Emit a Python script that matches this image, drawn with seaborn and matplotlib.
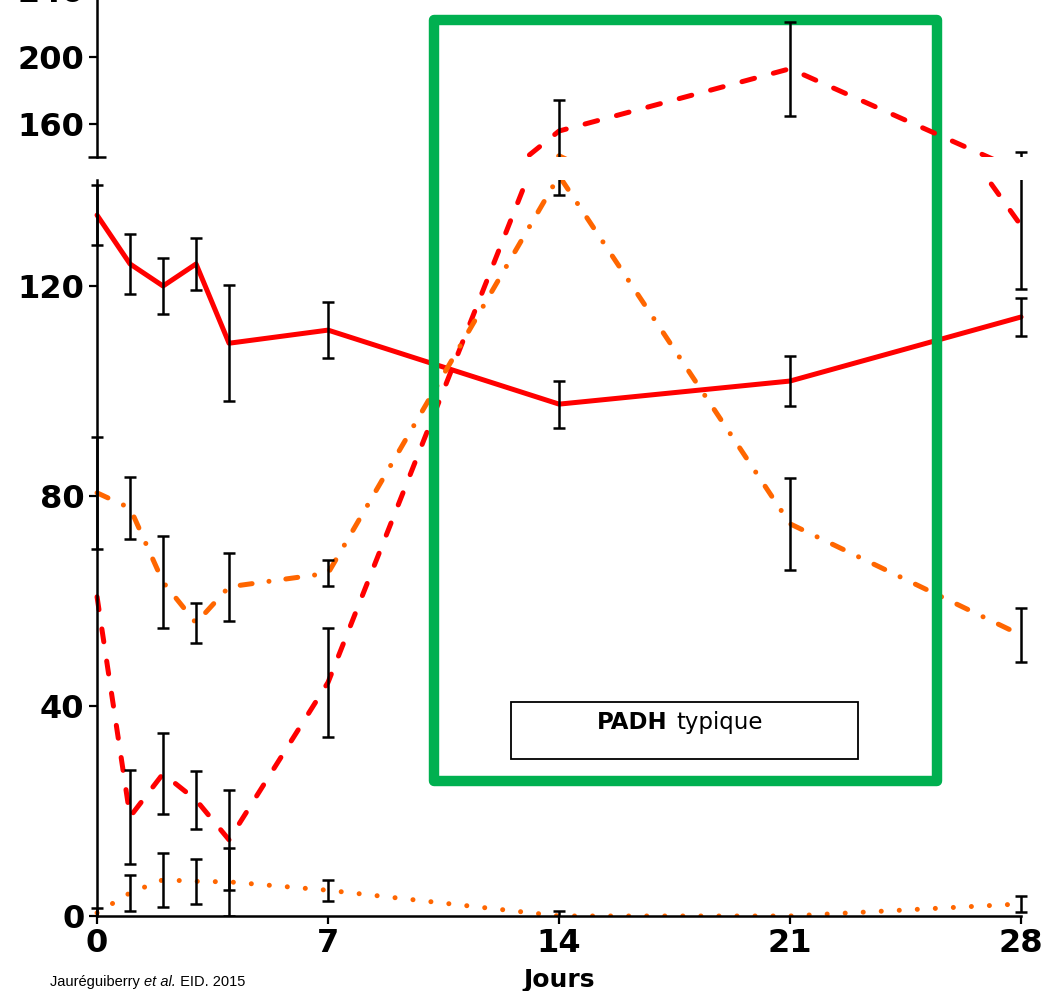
import pandas as pd
import seaborn as sns
import matplotlib.pyplot as plt
from matplotlib.patches import Rectangle
from matplotlib.transforms import Bbox, TransformedBbox

# jours de suivi
jours = [0, 1, 2, 3, 4, 7, 14, 21, 28]

# valeurs (moyenne et demi-barre d'erreur)
rouge_plein = [133.5, 124.2, 120.0, 124.2, 109.1, 111.6, 97.5, 101.9, 114.1]
rouge_plein_err = [5.7, 5.7, 5.4, 5.0, 11.0, 5.4, 4.5, 4.7, 3.6]
rouge_tirets = [60.8, 18.9, 27.1, 22.1, 14.5, 44.5, 155.8, 193.0, 131.5]
rouge_tirets_err = [0, 9.0, 7.7, 5.5, 9.5, 10.4, 18.5, 28.0, 12.0]
orange_mixte = [80.6, 77.7, 63.6, 55.8, 62.7, 65.3, 141.0, 74.7, 53.5]
orange_mixte_err = [10.7, 5.9, 8.8, 3.8, 6.5, 2.5, 0.0, 8.8, 5.2]
orange_points = [0.6, 4.4, 6.9, 6.6, 6.5, 4.9, 0.0, 0.0, 2.3]
orange_points_err = [1.0, 3.5, 5.1, 4.3, 6.5, 2.0, 1.0, 0.0, 1.5]

yticks_bas = [0, 40, 80, 120]
yticks_haut = [160, 200, 240]
xticks = [0, 7, 14, 21, 28]

rows = []
for nom, vals, errs in [('plein', rouge_plein, rouge_plein_err),
                        ('tirets', rouge_tirets, rouge_tirets_err),
                        ('mixte', orange_mixte, orange_mixte_err),
                        ('points', orange_points, orange_points_err)]:
    for j, v, e in zip(jours, vals, errs):
        rows.append({'jour': j, 'valeur': v, 'err': e, 'courbe': nom})
df = pd.DataFrame(rows)

couleurs = {'plein': '#FF0000', 'tirets': '#FF0000', 'mixte': '#FF6600', 'points': '#FF6600'}
tirets = {'plein': '', 'tirets': (2.6, 3.9), 'mixte': (2.4, 3.4, 0.01, 3.4), 'points': (0.01, 3.6)}

sns.set_style('ticks')
plt.rcParams['font.family'] = ['DejaVu Sans']
plt.rcParams['lines.dash_capstyle'] = 'round'
for k in ['text.color', 'axes.labelcolor', 'xtick.color', 'ytick.color', 'axes.edgecolor']:
    plt.rcParams[k] = 'black'

fig = plt.figure(figsize=(10.48, 9.91), dpi=100)
ax_bas = fig.add_axes([0.0926, 0.0757, 0.8817, 0.7427])
ax_haut = fig.add_axes([0.0926, 0.8416, 0.8817, 0.1685])

for ax in (ax_bas, ax_haut):
    sns.lineplot(data=df, x='jour', y='valeur', hue='courbe', style='courbe',
                 palette=couleurs, dashes=tirets, linewidth=3.6, legend=False,
                 ax=ax, zorder=2)
    clip = TransformedBbox(Bbox([[-0.03, 0], [1.03, 1]]), ax.transAxes)
    for line in ax.lines:
        line.set_clip_box(clip)
    for nom, g in df.groupby('courbe'):
        g = g[g['err'] > 0]
        eb = ax.errorbar(g['jour'], g['valeur'], yerr=g['err'], fmt='none',
                         ecolor='black', elinewidth=1.8, capsize=4.5,
                         capthick=1.8, zorder=3)
        for art in list(eb.lines[1]) + list(eb.lines[2]):
            art.set_clip_box(clip)
    ax.set_xlim(0, 28)
    ax.set_xlabel('')
    ax.set_ylabel('')
    ax.tick_params(axis='both', direction='out', length=6, width=1.6,
                   labelsize=23, pad=3)
    ax.spines['top'].set_visible(False)
    ax.spines['right'].set_visible(False)
    ax.spines['left'].set_linewidth(1.8)
    ax.spines['bottom'].set_linewidth(1.8)

ax_bas.set_ylim(0, 140.2)
ax_bas.set_yticks(yticks_bas)
ax_bas.set_xticks(xticks)
ax_bas.set_yticklabels([str(t) for t in yticks_bas], fontweight='bold')
ax_bas.set_xticklabels([str(t) for t in xticks], fontweight='bold')
ax_bas.set_xlabel('Jours', fontsize=18, fontweight='bold', labelpad=6)

ax_haut.set_ylim(140.3, 240)
ax_haut.set_yticks(yticks_haut)
ax_haut.set_yticklabels([str(t) for t in yticks_haut], fontweight='bold')
ax_haut.spines['bottom'].set_visible(False)
ax_haut.tick_params(axis='x', bottom=False, labelbottom=False)
ax_haut.set_facecolor('none')
# petite barre marquant la coupure de l'axe
ax_haut.plot([0], [140.3], marker='_', markersize=13, markeredgewidth=1.8,
             color='black', clip_on=False)

# fenêtre verte
ax_bas.add_patch(Rectangle((10.2, 25.7), 15.25, 144.9, fill=False,
                           edgecolor='#00B050', linewidth=7.5,
                           joinstyle='round', clip_on=False, zorder=10))
# encadré PADH
ax_bas.add_patch(Rectangle((12.55, 29.9), 10.5, 10.9, facecolor='white',
                           edgecolor='black', linewidth=1.3, zorder=9))
ax_bas.text(17.3, 36.9, 'PADH', ha='right', va='center', fontsize=16.5,
            fontweight='bold', zorder=11)
ax_bas.text(17.55, 36.9, 'typique', ha='left', va='center', fontsize=16.5,
            zorder=11)

# référence, morceaux placés bout à bout
renderer = fig.canvas.get_renderer()
x = 50
for morceau, style in [('Jauréguiberry ', 'normal'), ('et al.', 'italic'), (' EID. 2015', 'normal')]:
    t = fig.text(x / 1048, 0.005, morceau, fontsize=10.5, style=style,
                 family=['Liberation Sans', 'DejaVu Sans'], va='baseline')
    x = t.get_window_extent(renderer).x1

fig.savefig('out.png', dpi=100)
